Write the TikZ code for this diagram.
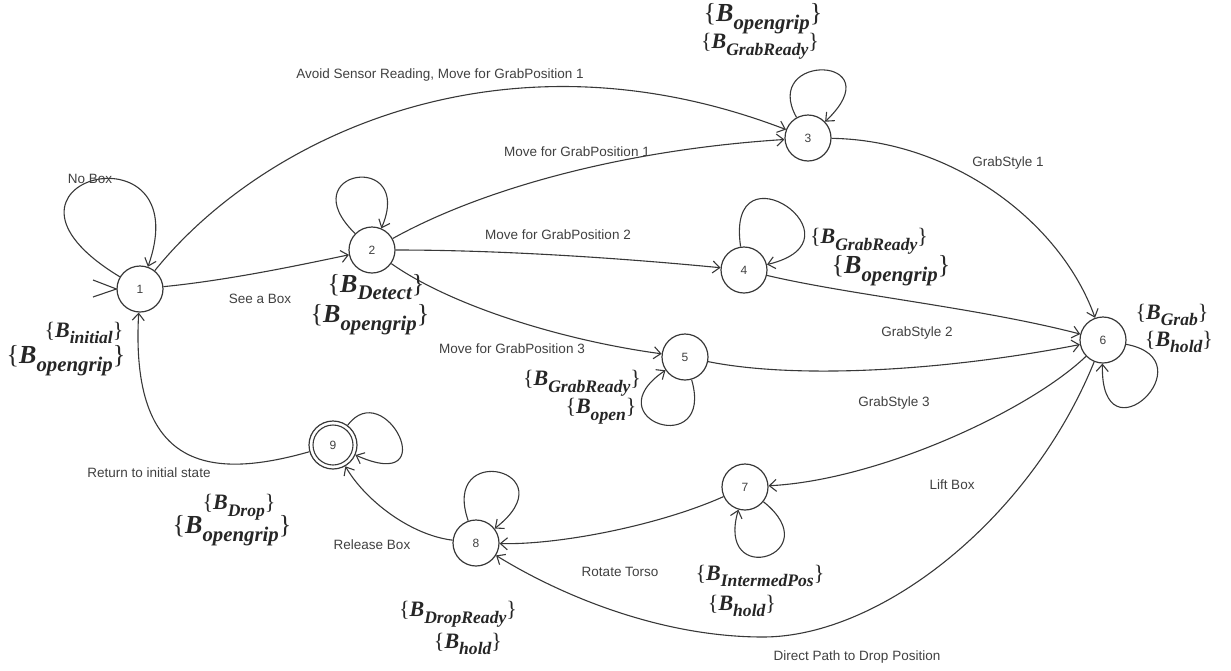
\documentclass[tikz,border=0pt]{standalone}
\usepackage{graphicx}
\usepackage{fontspec}
\setmainfont{Liberation Sans}
\newfontfamily\serf{Liberation Serif}
\usetikzlibrary{arrows.meta}
\definecolor{linec}{HTML}{383838}
\definecolor{textc}{HTML}{404040}
\newcommand{\bset}[1]{{\serf\{\textbf{\textit{B}}\raisebox{-0.3em}{\scalebox{0.8}{\bfseries\itshape #1}}\}}}
\tikzset{
  statenode/.style={circle, draw=linec, line width=1.2pt, minimum size=46pt, inner sep=0pt,
    font=\fontsize{12}{14}\selectfont, text=textc},
  edge/.style={draw=linec, line width=1.1pt, -{Straight Barb[length=7pt,width=12pt,line width=1.1pt]}},
  lab/.style={font=\fontsize{13.5}{16}\selectfont, text=textc, inner sep=0pt},
  mbig/.style={font=\fontsize{26}{30}\selectfont, inner sep=0pt, text=black!85},
  msmall/.style={font=\fontsize{22}{26}\selectfont, inner sep=0pt, text=black!85}
}
\begin{document}
\begin{tikzpicture}[x=1pt,y=-1pt]
\useasboundingbox (0,0) rectangle (1231,670);
% states
\node[statenode] (n1) at (140,289) {1};
\node[statenode] (n2) at (372,250) {2};
\node[statenode] (n3) at (808,138) {3};
\node[statenode] (n4) at (744,270) {4};
\node[statenode] (n5) at (685,357) {5};
\node[statenode] (n6) at (1103,340) {6};
\node[statenode] (n7) at (745,487) {7};
\node[statenode] (n8) at (476,543) {8};
\node[statenode, minimum size=48pt] (n9) at (333,445) {9};
\draw[draw=linec, line width=1.1pt] (n9.center) circle (20);
% initial marker
\coordinate (ia) at (93,280);
\coordinate (ib) at (93,297);
\draw[draw=linec, line width=1.1pt] (ia) -- (n1.west) -- (ib);
% self loops
\draw[edge] (n1) .. controls (-40,180) and (200,120) .. (n1);
\draw[edge] (n2) .. controls (290,170) and (415,150) .. (n2);
\draw[edge] (n3) .. controls (760,52) and (895,55) .. (n3);
\draw[edge] (n4) .. controls (725,140) and (870,240) .. (n4);
\draw[edge] (n5) .. controls (715,460) and (592,420) .. (n5);
\draw[edge] (n6) .. controls (1210,360) and (1100,465) .. (n6);
\draw[edge] (n7) .. controls (830,555) and (715,590) .. (n7);
\draw[edge] (n8) .. controls (440,440) and (570,470) .. (n8);
\draw[edge] (n9) .. controls (385,375) and (445,495) .. (n9);
% transitions
\draw[edge] (n1) .. controls (230,280) and (300,265) .. (n2);
\draw[edge] (n1) .. controls (260,140) and (500,20) .. (n3);
\draw[edge] (n2) .. controls (480,190) and (620,150) .. (n3);
\draw[edge] (n2) .. controls (500,250) and (620,258) .. (n4);
\draw[edge] (n2) .. controls (450,305) and (560,340) .. (n5);
\draw[edge] (n3) .. controls (950,140) and (1060,220) .. (n6);
\draw[edge] (n4) .. controls (850,295) and (980,308) .. (n6);
\draw[edge] (n5) .. controls (800,380) and (950,370) .. (n6);
\draw[edge] (n6) .. controls (1030,410) and (880,480) .. (n7);
\coordinate (low) at (763,637);
\draw[edge] (n6) .. controls (1030,520) and (880,637) .. (low) .. controls (660,637) and (560,595) .. (n8);
\draw[edge] (n7) .. controls (660,525) and (560,545) .. (n8);
\draw[edge] (n8) .. controls (410,535) and (365,500) .. (n9);
\draw[edge] (n9) .. controls (210,480) and (130,470) .. (n1);
% edge labels
\node[lab] (l1) at (90,179) {No Box};
\node[lab] (l2) at (260,299) {See a Box};
\node[lab] (l3) at (440,75) {Avoid Sensor Reading, Move for GrabPosition 1};
\node[lab] (l4) at (577,152) {Move for GrabPosition 1};
\node[lab] (l5) at (558,235) {Move for GrabPosition 2};
\node[lab] (l6) at (512,349) {Move for GrabPosition 3};
\node[lab] (l7) at (1008,163) {GrabStyle 1};
\node[lab] (l8) at (917,333) {GrabStyle 2};
\node[lab] (l9) at (894,403) {GrabStyle 3};
\node[lab] (l10) at (952,485) {Lift Box};
\node[lab] (l11) at (620,572) {Rotate Torso};
\node[lab] (l12) at (372,545) {Release Box};
\node[lab] (l13) at (149,473) {Return to initial state};
\node[lab] (l14) at (857,657) {Direct Path to Drop Position};
% state annotations
\node[msmall] (a1a) at (84,333) {\bset{initial}};
\node[mbig] (a1b) at (66,361) {\bset{opengrip}};
\node[mbig] (a2a) at (376,287) {\bset{Detect}};
\node[mbig] (a2b) at (370,320) {\bset{opengrip}};
\node[mbig] (a3a) at (763,19) {\bset{opengrip}};
\node[msmall] (a3b) at (760,46) {\bset{GrabReady}};
\node[msmall] (a4a) at (869,241) {\bset{GrabReady}};
\node[mbig] (a4b) at (891,271) {\bset{opengrip}};
\node[msmall] (a5a) at (582,383) {\bset{GrabReady}};
\node[msmall] (a5b) at (601,411) {\bset{open}};
\node[msmall] (a6a) at (1172,315) {\bset{Grab}};
\node[msmall] (a6b) at (1179,342) {\bset{hold}};
\node[msmall] (a7a) at (760,576) {\bset{IntermedPos}};
\node[msmall] (a7b) at (742,606) {\bset{hold}};
\node[msmall] (a8a) at (458,614) {\bset{DropReady}};
\node[msmall] (a8b) at (468,644) {\bset{hold}};
\node[msmall] (a9a) at (239,507) {\bset{Drop}};
\node[mbig] (a9b) at (232,531) {\bset{opengrip}};
\end{tikzpicture}
\end{document}
